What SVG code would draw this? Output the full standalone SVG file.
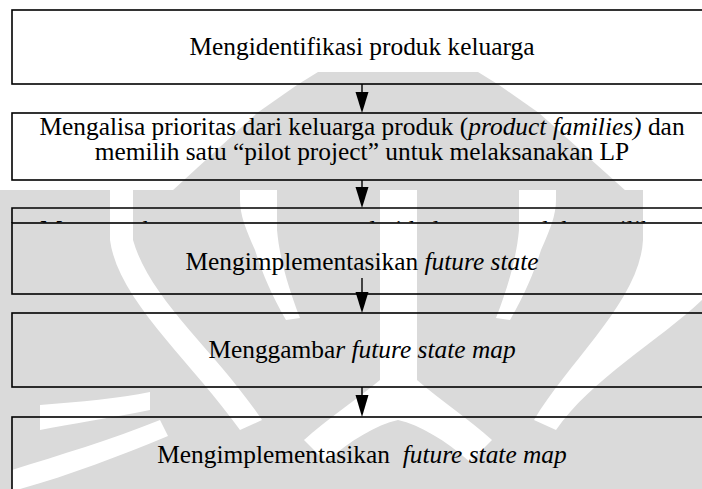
<svg xmlns="http://www.w3.org/2000/svg" width="702" height="489" viewBox="0 0 702 489">
  <defs>
    <style>
      .box { fill: none; stroke: #000; stroke-width: 1.6; }
      .lbl { font-family: "Liberation Serif", "Times New Roman", serif; font-size: 25.4px; fill: #000; text-anchor: middle; }
      .it { font-style: italic; }
      .conn { stroke: #000; stroke-width: 1.4; fill: none; }
      .head { fill: #000; stroke: none; }
      .wm { fill: #dadada; stroke: none; }
      .wm-gap { fill: #fff; stroke: none; }
    </style>
    <clipPath id="clip-step3">
      <rect x="12" y="208" width="700" height="14.5"/>
    </clipPath>
  </defs>

  <rect width="702" height="489" fill="#fff"/>

  <!-- light background emblem -->
  <g id="emblem">
    <path class="wm" d="M172,191 L257,113 L297,85 L318,72 L478,72 L499,85 L539,113 L626,191 Z"/>
    <rect class="wm" x="0" y="190" width="702" height="299"/>
    <!-- outer gaps -->
    <path class="wm-gap" d="M110,190 L133,190 L133,240 C150,300 215,350 262,420 L240,430 C190,360 118,300 110,240 Z"/>
    <path class="wm-gap" d="M643,190 L702,190 L702,300 C660,340 590,380 556,430 L534,420 C570,360 640,300 643,240 Z"/>
    <!-- inner gaps -->
    <path class="wm-gap" d="M240,190 L277,190 L277,230 C280,262 290,292 300,318 L286,320 C270,292 262,272 255,250 C246,230 240,215 240,200 Z"/>
    <path class="wm-gap" d="M519,190 L556,190 L556,200 C556,215 550,230 541,250 C534,272 526,292 510,320 L496,318 C506,292 516,262 519,230 Z"/>
    <!-- centre stripe opening out at the bottom -->
    <path class="wm-gap" d="M380,190 L417,190 L417,380 C440,400 470,420 492,440 L470,462 C445,440 420,425 398,420 C376,425 351,440 326,462 L304,440 C326,420 356,400 380,380 Z"/>
    <!-- lower left sweep -->
    <path class="wm-gap" d="M12,470 C60,455 110,440 160,420 L168,436 C120,456 70,475 20,489 L12,489 Z"/>
    <path class="wm-gap" d="M40,405 C80,402 120,398 150,392 L150,410 C110,418 70,424 40,430 Z"/>
  </g>

  <!-- process steps -->
  <g id="step1">
    <rect class="box" x="12" y="10" width="720" height="74"/>
    <text class="lbl" x="362" y="55">Mengidentifikasi produk keluarga</text>
  </g>

  <g id="step2">
    <rect class="box" x="12" y="113" width="720" height="67"/>
    <text class="lbl" x="362" y="135">Mengalisa prioritas dari keluarga produk (<tspan class="it">product families)</tspan> dan</text>
    <text class="lbl" x="362" y="160">memilih satu “pilot project” untuk melaksanakan LP</text>
  </g>

  <g id="step3">
    <path class="box" d="M732,223 V208 H12 V223"/>
    <text class="lbl" x="40" y="238" style="text-anchor:start" clip-path="url(#clip-step3)">Menggambar current state map dari keluarga produk terpilih</text>
  </g>

  <g id="step4">
    <rect class="box" x="12" y="223" width="720" height="71"/>
    <text class="lbl" x="362" y="270">Mengimplementasikan <tspan class="it">future state</tspan></text>
  </g>

  <g id="step5">
    <rect class="box" x="12" y="313" width="720" height="74"/>
    <text class="lbl" x="362" y="358">Menggamba<tspan class="it">r future state map</tspan></text>
  </g>

  <g id="step6">
    <rect class="box" x="12" y="417" width="720" height="90"/>
    <text class="lbl" x="362" y="463" xml:space="preserve">Mengimplementasikan  <tspan class="it">future state map</tspan></text>
  </g>

  <!-- connectors -->
  <g id="connectors">
    <line class="conn" x1="362" y1="84" x2="362" y2="95"/>
    <polygon class="head" points="355.5,92 368.5,92 362,113"/>
    <line class="conn" x1="362" y1="180" x2="362" y2="190"/>
    <polygon class="head" points="355.5,187 368.5,187 362,208"/>
    <line class="conn" x1="362" y1="278" x2="362" y2="295"/>
    <polygon class="head" points="355.5,292 368.5,292 362,313"/>
    <line class="conn" x1="362" y1="387" x2="362" y2="398"/>
    <polygon class="head" points="355.5,395 368.5,395 362,417"/>
  </g>
</svg>
